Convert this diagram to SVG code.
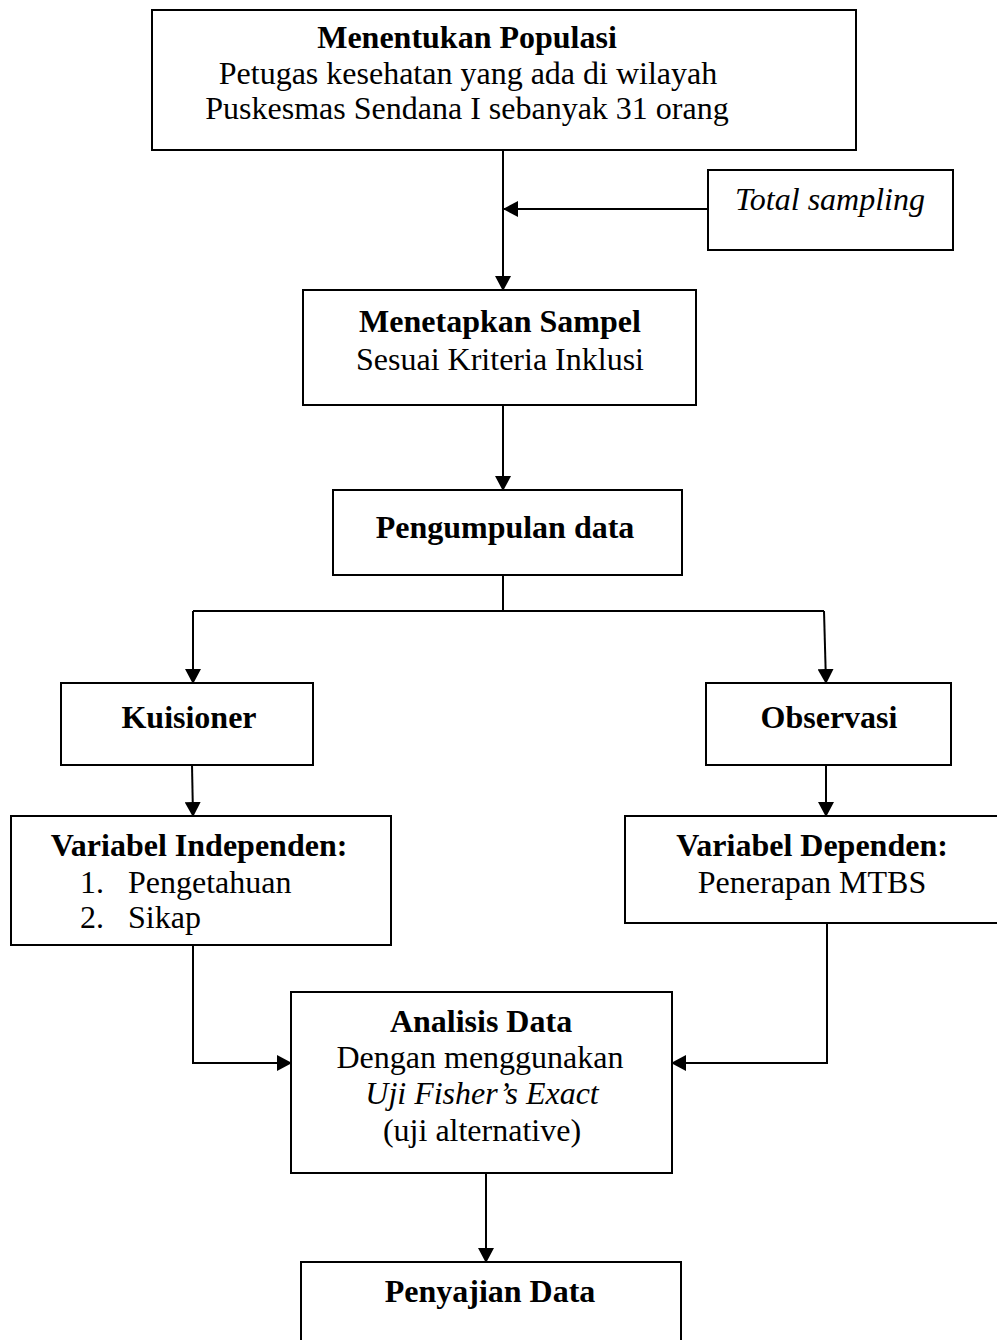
<svg xmlns="http://www.w3.org/2000/svg" width="997" height="1340" viewBox="0 0 997 1340">
<defs>
<style>
.box{fill:#fff;stroke:#000;stroke-width:2}
.t{font-family:"Liberation Serif","Times New Roman",serif;font-size:32px;fill:#000;text-anchor:middle}
.s{text-anchor:start}
.b{font-weight:bold}
.i{font-style:italic}
.c{fill:none;stroke:#000;stroke-width:2}
</style>
<marker id="ah" markerWidth="15" markerHeight="16" refX="14" refY="8" orient="auto" markerUnits="userSpaceOnUse">
<path d="M0,0 L15,8 L0,16 Z" fill="#000"/>
</marker>
</defs>
<rect width="997" height="1340" fill="#fff"/>
<g id="connectors">
<path class="c" d="M503,150 V290" marker-end="url(#ah)"/>
<path class="c" d="M708,209 H504" marker-end="url(#ah)"/>
<path class="c" d="M503,405 V490" marker-end="url(#ah)"/>
<path class="c" d="M503,575 V611"/>
<path class="c" d="M193,611 H824"/>
<path class="c" d="M193,611 V683" marker-end="url(#ah)"/>
<path class="c" d="M824,611 L826,683" marker-end="url(#ah)"/>
<path class="c" d="M192,765 L193,816" marker-end="url(#ah)"/>
<path class="c" d="M826,765 V816" marker-end="url(#ah)"/>
<path class="c" d="M193,945 V1063 H291" marker-end="url(#ah)"/>
<path class="c" d="M827,923 V1063 H672" marker-end="url(#ah)"/>
<path class="c" d="M486,1173 V1262" marker-end="url(#ah)"/>
</g>
<g id="populasi">
<rect class="box" x="152" y="10" width="704" height="140"/>
<text class="t b" x="467" y="48">Menentukan Populasi</text>
<text class="t" x="468" y="84">Petugas kesehatan yang ada di wilayah</text>
<text class="t" x="467" y="119">Puskesmas Sendana I sebanyak 31 orang</text>
</g>
<g id="total-sampling">
<rect class="box" x="708" y="170" width="245" height="80"/>
<text class="t i" x="830" y="210">Total sampling</text>
</g>
<g id="sampel">
<rect class="box" x="303" y="290" width="393" height="115"/>
<text class="t b" x="500" y="332">Menetapkan Sampel</text>
<text class="t" x="500" y="370">Sesuai Kriteria Inklusi</text>
</g>
<g id="pengumpulan">
<rect class="box" x="333" y="490" width="349" height="85"/>
<text class="t b" x="505" y="538">Pengumpulan data</text>
</g>
<g id="kuisioner">
<rect class="box" x="61" y="683" width="252" height="82"/>
<text class="t b" x="189" y="728">Kuisioner</text>
</g>
<g id="observasi">
<rect class="box" x="706" y="683" width="245" height="82"/>
<text class="t b" x="829" y="728">Observasi</text>
</g>
<g id="independen">
<rect class="box" x="11" y="816" width="380" height="129"/>
<text class="t b" x="199" y="856">Variabel Independen:</text>
<text class="t s" x="80" y="893">1.</text>
<text class="t s" x="128" y="893">Pengetahuan</text>
<text class="t s" x="80" y="928">2.</text>
<text class="t s" x="128" y="928">Sikap</text>
</g>
<g id="dependen">
<rect class="box" x="625" y="816" width="390" height="107"/>
<text class="t b" x="812" y="856">Variabel Dependen:</text>
<text class="t" x="812" y="893">Penerapan MTBS</text>
</g>
<g id="analisis">
<rect class="box" x="291" y="992" width="381" height="181"/>
<text class="t b" x="481" y="1032">Analisis Data</text>
<text class="t" x="480" y="1068">Dengan menggunakan</text>
<text class="t i" x="482" y="1104">Uji Fisher’s Exact</text>
<text class="t" x="482" y="1141">(uji alternative)</text>
</g>
<g id="penyajian">
<rect class="box" x="301" y="1262" width="380" height="100"/>
<text class="t b" x="490" y="1302">Penyajian Data</text>
</g>
</svg>
